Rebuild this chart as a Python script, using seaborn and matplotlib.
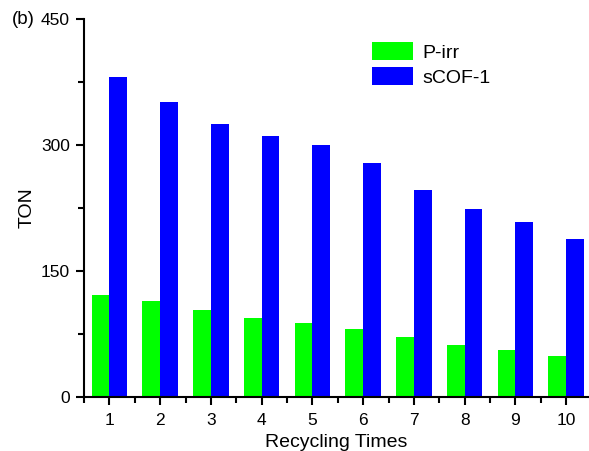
import matplotlib
matplotlib.use("Agg")
import matplotlib.pyplot as plt
import seaborn as sns
import pandas as pd
import numpy as np
from matplotlib.ticker import MultipleLocator, FixedLocator

cycles = ["1", "2", "3", "4", "5", "6", "7", "8", "9", "10"]
p_irr = [121, 114, 104, 94, 88, 81, 71, 62, 56, 49]
scof1 = [381, 351, 325, 311, 300, 279, 246, 224, 208, 188]
series_names = ["P-irr", "sCOF-1"]
colors = ["#00FF00", "#0000FF"]

df = pd.DataFrame({
    "cycle": cycles * 2,
    "TON": p_irr + scof1,
    "series": [series_names[0]] * len(cycles) + [series_names[1]] * len(cycles),
})

sns.set_style("ticks")
plt.rcParams["font.family"] = ["Liberation Sans", "DejaVu Sans"]
plt.rcParams["text.color"] = "black"
plt.rcParams["axes.labelcolor"] = "black"
plt.rcParams["xtick.color"] = "black"
plt.rcParams["ytick.color"] = "black"

fig = plt.figure(figsize=(5.89, 4.51), dpi=100)
ax = fig.add_axes([84 / 589, 1 - 397 / 451, 1 - 84 / 589, (397 - 19) / 451])

sns.barplot(data=df, x="cycle", y="TON", hue="series", order=cycles,
            hue_order=series_names, palette=colors, width=0.7,
            saturation=1, linewidth=0, ax=ax)

ax.set_xlim(-0.5, 9.45)
ax.set_ylim(0, 450)
ax.yaxis.set_major_locator(MultipleLocator(150))
ax.yaxis.set_minor_locator(MultipleLocator(75))
ax.xaxis.set_minor_locator(FixedLocator(np.arange(-0.5, 10, 1.0)))

for s in ["top", "right"]:
    ax.spines[s].set_visible(False)
for s in ["left", "bottom"]:
    ax.spines[s].set_linewidth(1.5)
    ax.spines[s].set_color("black")

ax.tick_params(which="major", length=6, width=1.5, labelsize=12.5, colors="black",
               direction="out", pad=4)
ax.tick_params(axis="x", which="major", pad=5.5)
ax.tick_params(which="minor", length=4, width=1.5, direction="out", colors="black")

ax.set_xlabel("Recycling Times", fontsize=14, labelpad=4, color="black")
ax.set_ylabel("TON", fontsize=14, labelpad=4, color="black")

leg = ax.legend(loc="upper left", bbox_to_anchor=(372 / 589, 1 - 42 / 451),
                bbox_transform=fig.transFigure, frameon=False, fontsize=14,
                handlelength=2.1, handleheight=1.03, handletextpad=0.5,
                labelspacing=0.3, borderpad=0, borderaxespad=0, title=None,
                labelcolor="black")

fig.text(12 / 589, 1 - 20 / 451, "(b)", fontsize=13.5, va="center", ha="left",
         color="black")

fig.savefig("out.png", dpi=100)
